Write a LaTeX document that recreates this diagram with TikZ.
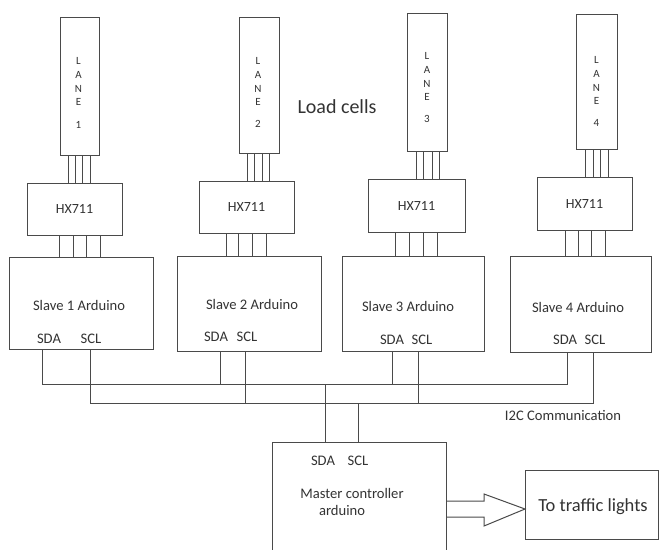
\documentclass[tikz,border=0pt]{standalone}
\usepackage{fontspec}
\setmainfont{Carlito}
\usetikzlibrary{calc}
\definecolor{ln}{HTML}{4A4A4A}
\definecolor{tx}{HTML}{333333}
\begin{document}
\begin{tikzpicture}[x=1pt,y=-1pt,
  box/.style={draw=ln, line width=1pt, inner sep=0pt, outer sep=0pt},
  wire/.style={draw=ln, line width=1pt},
  lbl/.style={text=tx, inner sep=0pt, font=\fontsize{14.6}{17}\selectfont},
  lanetxt/.style={text=tx, inner sep=0pt, align=center, anchor=north, font=\fontsize{11}{13.7}\selectfont},
  hxtxt/.style={text=tx, inner sep=0pt, font=\fontsize{14}{17}\selectfont}]
\useasboundingbox (0,0) rectangle (660,549);
\fill[white] (0,0) rectangle (660,549);

% load cells (lanes)
\node[box, minimum width=39pt, minimum height=138pt] (lane1) at (79.5,86) {};
\node[box, minimum width=40pt, minimum height=136pt] (lane2) at (259,85) {};
\node[box, minimum width=40pt, minimum height=138pt] (lane3) at (427,82) {};
\node[box, minimum width=41pt, minimum height=135pt] (lane4) at (596.5,81.5) {};
\node[lanetxt] (lt1) at ([xshift=-1pt,yshift=-40.5pt]lane1.north) {L\\A\\N\\E\\[9pt]1};
\node[lanetxt] (lt2) at ([xshift=-1pt,yshift=-40.5pt]lane2.north) {L\\A\\N\\E\\[8pt]2};
\node[lanetxt] (lt3) at ([yshift=-39.5pt]lane3.north) {L\\A\\N\\E\\[8pt]3};
\node[lanetxt] (lt4) at ([yshift=-42.5pt]lane4.north) {L\\A\\N\\E\\[8pt]4};

\node[text=tx, inner sep=0pt, font=\fontsize{20}{24}\selectfont] (lc) at (337,107) {Load cells};

% HX711 boards
\node[box, minimum width=95pt, minimum height=52pt] (hx1) at (74.5,209) {};
\node[box, minimum width=95pt, minimum height=52pt] (hx2) at (246.5,207) {};
\node[box, minimum width=97pt, minimum height=53pt] (hx3) at (416.5,205.5) {};
\node[box, minimum width=95pt, minimum height=53pt] (hx4) at (584.5,203.5) {};
\node[hxtxt] (hxt1) at (hx1) {HX711};
\node[hxtxt] (hxt2) at (hx2) {HX711};
\node[hxtxt] (hxt3) at (hx3) {HX711};
\node[hxtxt] (hxt4) at (hx4) {HX711};

% slaves
\node[box, minimum width=144pt, minimum height=92pt] (s1) at (81,303) {};
\node[box, minimum width=144pt, minimum height=95pt] (s2) at (249,303.5) {};
\node[box, minimum width=142pt, minimum height=95pt] (s3) at (413,303.5) {};
\node[box, minimum width=141pt, minimum height=96pt] (s4) at (580.5,304) {};
\node[lbl] (st1) at (79,305) {Slave 1 Arduino};
\node[lbl] (st2) at (252,304) {Slave 2 Arduino};
\node[lbl] (st3) at (408,306) {Slave 3 Arduino};
\node[lbl] (st4) at (578,307) {Slave 4 Arduino};
\node[lbl] (sa1) at (49,339) {SDA};  \node[lbl] (sc1) at (91,339) {SCL};
\node[lbl] (sa2) at (216,337) {SDA}; \node[lbl] (sc2) at (247,337) {SCL};
\node[lbl] (sa3) at (392,340) {SDA}; \node[lbl] (sc3) at (422,340) {SCL};
\node[lbl] (sa4) at (565,340) {SDA}; \node[lbl] (sc4) at (595,340) {SCL};

% master and traffic lights
\node[box, minimum width=174pt, minimum height=118pt] (m) at (359,501) {};
\node[lbl] (ma) at (323,461) {SDA};
\node[lbl] (mc) at (358,461) {SCL};
\node[lbl] (mt1) at (352,493) {Master controller};
\node[lbl] (mt2) at (342,510) {arduino};
\node[box, minimum width=133pt, minimum height=69pt] (tl) at (591.5,504.5) {};
\node[text=tx, inner sep=0pt, font=\fontsize{18.5}{22}\selectfont] (tlt) at (593,507) {To traffic lights};

\node[lbl] (i2c) at (563,415) {I2C Communication};

% lane -> HX711 wires
\foreach \d in {-11.5,-4.5,2.5,10.5}
  \draw[wire] ([xshift=\d pt]lane1.south) -- ([xshift=\d pt]lane1.south |- hx1.north);
\foreach \d in {-12,-5,3,10}
  \draw[wire] ([xshift=\d pt]lane2.south) -- ([xshift=\d pt]lane2.south |- hx2.north);
\foreach \d in {-11,-4,5,12}
  \draw[wire] ([xshift=\d pt]lane3.south) -- ([xshift=\d pt]lane3.south |- hx3.north);
\foreach \d in {-11.5,-3.5,3.5,11.5}
  \draw[wire] ([xshift=\d pt]lane4.south) -- ([xshift=\d pt]lane4.south |- hx4.north);

% HX711 -> slave wires
\foreach \d in {-15.5,-1.5,11.5,25.5}
  \draw[wire] ([xshift=\d pt]hx1.south) -- ([xshift=\d pt]hx1.south |- s1.north);
\foreach \d in {-20.5,-8.5,5.5,19.5}
  \draw[wire] ([xshift=\d pt]hx2.south) -- ([xshift=\d pt]hx2.south |- s2.north);
\foreach \d in {-21.5,-7.5,6.5,20.5}
  \draw[wire] ([xshift=\d pt]hx3.south) -- ([xshift=\d pt]hx3.south |- s3.north);
\foreach \d in {-19.5,-6.5,6.5,20.5}
  \draw[wire] ([xshift=\d pt]hx4.south) -- ([xshift=\d pt]hx4.south |- s4.north);

% I2C bus
\coordinate (sdabus) at (0,384);
\coordinate (sclbus) at (0,403);
\coordinate (p1a) at ([xshift=-39pt]s1.south);   \coordinate (p1c) at ([xshift=9pt]s1.south);
\coordinate (p2a) at ([xshift=-29pt]s2.south);   \coordinate (p2c) at ([xshift=-4pt]s2.south);
\coordinate (p3a) at ([xshift=-21pt]s3.south);   \coordinate (p3c) at ([xshift=5pt]s3.south);
\coordinate (p4a) at ([xshift=-13.5pt]s4.south); \coordinate (p4c) at ([xshift=12.5pt]s4.south);
\coordinate (pma) at ([xshift=-34pt]m.north);    \coordinate (pmc) at ([xshift=-1pt]m.north);

\draw[wire] (p1a) -- (p1a |- sdabus) -- (p4a |- sdabus) -- (p4a);
\draw[wire] (p2a) -- (p2a |- sdabus);
\draw[wire] (p3a) -- (p3a |- sdabus);
\draw[wire] (pma) -- (pma |- sdabus);
\draw[wire] (p1c) -- (p1c |- sclbus) -- (p4c |- sclbus) -- (p4c);
\draw[wire] (p2c) -- (p2c |- sclbus);
\draw[wire] (p3c) -- (p3c |- sclbus);
\draw[wire] (pmc) -- (pmc |- sclbus);

% hollow arrow master -> traffic lights
\draw[wire, line join=miter] (m.east) -- ++(38,0) -- ++(0,-7) -- ($(tl.west)+(0,4.5)$)
  -- ($(m.east)+(38,25)$) -- ++(0,-9) -- ($(m.east)+(0,16)$);
\end{tikzpicture}
\end{document}
